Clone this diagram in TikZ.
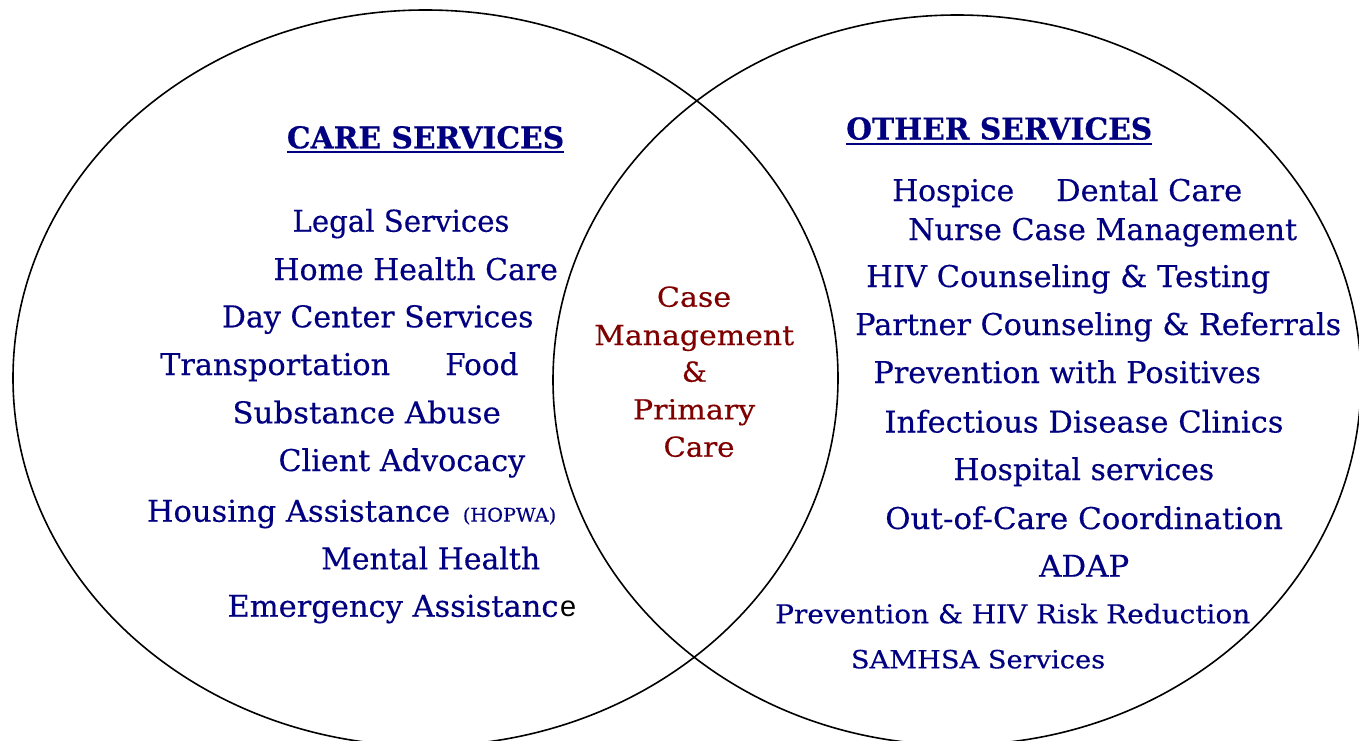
\documentclass[tikz,border=0pt]{standalone}
\usepackage{fontspec}
\usepackage{graphicx}
\setmainfont[FakeBold=0.35,BoldFont={DejaVu Serif Bold},BoldFeatures={FakeBold=0.5}]{DejaVu Serif}
\newfontfamily\arialfont{Liberation Sans}
\usetikzlibrary{shapes.geometric}
\definecolor{navy}{RGB}{0,0,128}
\definecolor{maroon}{RGB}{128,0,0}
\newcommand\fitw[2]{\resizebox{#1pt}{\height}{#2}}
\begin{document}
\begin{tikzpicture}[x=1pt,y=-1pt,
  venn/.style={draw=black, line width=1.6pt, ellipse, inner sep=0pt},
  item/.style={inner sep=0pt, anchor=base west, text=navy, font=\fontsize{30}{36}\selectfont},
  smallitem/.style={item, font=\fontsize{26}{30}\selectfont},
  tinyitem/.style={item, font=\fontsize{19}{22}\selectfont},
  head/.style={item, font=\bfseries\fontsize{30}{36}\selectfont},
  core/.style={inner sep=0pt, anchor=base west, text=maroon, font=\fontsize{27.5}{33}\selectfont},
  ul/.style={draw=navy, line width=2pt}]
\useasboundingbox (0,0) rectangle (1359,741);
\fill[white] (0,0) rectangle (1359,741);
\clip (0,0) rectangle (1359,741);
% circles
\node[venn, minimum width=825pt, minimum height=736pt] (leftset) at (425.5,378) {};
\node[venn, minimum width=808pt, minimum height=730pt] (rightset) at (957,380) {};
% headings
\node[head] (care) at (286.7,148.3) {\fitw{277.3}{CARE SERVICES}};
\draw[ul] ([yshift=-4pt]care.base west) -- ([yshift=-4pt]care.base east);
\node[head] (other) at (846,139.5) {\fitw{306}{OTHER SERVICES}};
\draw[ul] ([yshift=-4pt]other.base west) -- ([yshift=-4pt]other.base east);
% left items
\node[item] (legal) at (292.3,231.7) {\fitw{217}{Legal Services}};
\node[item] (home) at (273.3,280) {\fitw{284.4}{Home Health Care}};
\node[item] (day) at (221.7,327.3) {\fitw{311.6}{Day Center Services}};
\node[item] (transp) at (160,375) {\fitw{230}{Transportation}};
\node[item] (food) at (445,375) {\fitw{73.3}{Food}};
\node[item] (subst) at (232.3,423.3) {\fitw{268.4}{Substance Abuse}};
\node[item] (client) at (278.3,471) {\fitw{246.7}{Client Advocacy}};
\node[item] (housing) at (146.7,521.7) {\fitw{303.3}{Housing Assistance}};
\node[tinyitem] (hopwa) at (462.7,521.7) {\fitw{93.3}{(HOPWA)}};
\node[item] (mental) at (321,569.3) {\fitw{219}{Mental Health}};
\node[item] (emerg) at (227.3,616.7) {\fitw{331}{Emergency Assistanc}};
\node[inner sep=0pt, anchor=base west, text=black, font=\arialfont\fontsize{29}{34}\selectfont] (emerge) at (560,616.7) {e};
% center
\node[core] (c1) at (656.7,306.7) {\fitw{74.3}{Case}};
\node[core] (c2) at (594,345) {\fitw{200}{Management}};
\node[core] (c3) at (681.7,381.7) {\fitw{25}{\&}};
\node[core] (c4) at (632.7,419.3) {\fitw{122.3}{Primary}};
\node[core] (c5) at (663.3,456.7) {\fitw{71}{Care}};
% right items
\node[item] (hospice) at (892,201) {\fitw{122}{Hospice}};
\node[item] (dental) at (1056,201) {\fitw{186}{Dental Care}};
\node[item] (nurse) at (908,240) {\fitw{389}{Nurse Case Management}};
\node[item] (hivct) at (866,287) {\fitw{404}{HIV Counseling \& Testing}};
\node[item] (partner) at (855,335) {\fitw{486}{Partner Counseling \& Referrals}};
\node[item] (prevpos) at (873.3,383) {\fitw{387.4}{Prevention with Positives}};
\node[item] (infect) at (884.3,432.5) {\fitw{399}{Infectious Disease Clinics}};
\node[item] (hospital) at (953.3,480) {\fitw{260.7}{Hospital services}};
\node[item] (outcare) at (885,529) {\fitw{397.7}{Out-of-Care Coordination}};
\node[item] (adap) at (1039,576.7) {\fitw{90}{ADAP}};
\node[smallitem] (prevhiv) at (775,623.3) {\fitw{475}{Prevention \& HIV Risk Reduction}};
\node[smallitem, font=\fontsize{25}{30}\selectfont] (samhsa) at (850.7,668.3) {\fitw{254.3}{SAMHSA Services}};
\end{tikzpicture}
\end{document}
